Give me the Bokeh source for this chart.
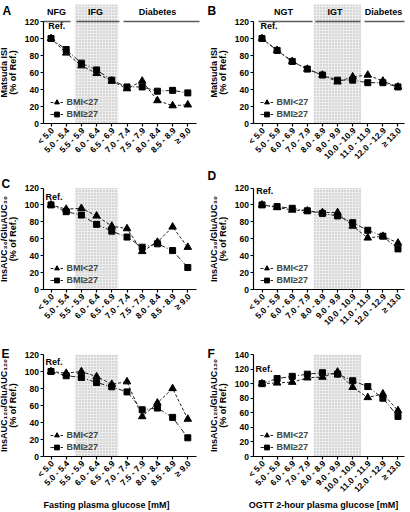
import math
from bokeh.plotting import figure
from bokeh.layouts import column, row
from bokeh.models import FixedTicker, Legend, LegendItem, Range1d
from bokeh.core.properties import value
from bokeh.embed import file_html
from bokeh.resources import INLINE

# ---------------- data ----------------
fpg_bins = ["< 5.0", "5.0 - 5.4", "5.5 - 5.9", "6.0 - 6.4", "6.5 - 6.9",
            "7.0 - 7.4", "7.5 - 7.9", "8.0 - 8.4", "8.5 - 8.9", "\u2265 9.0"]
ogtt_bins = ["< 5.0", "5.0 - 5.9", "6.0 - 6.9", "7.0 - 7.9", "8.0 - 8.9",
             "9.0 - 9.9", "10.0 - 10.9", "11.0 - 11.9", "12.0 - 12.9", "\u2265 13.0"]
series_names = ["BMI<27", "BMI\u226527"]
fpg_groups = ["NFG", "IFG", "Diabetes"]
ogtt_groups = ["NGT", "IGT", "Diabetes"]

matsuda_fpg_lt27 = [100, 83, 68, 59, 50, 41, 50, 27, 21, 22]
matsuda_fpg_ge27 = [100, 87, 71, 63, 51, 43, 43, 38, 39, 36]
matsuda_ogtt_lt27 = [100, 86, 73, 64, 57, 49, 55, 57, 50, 43]
matsuda_ogtt_ge27 = [100, 86, 73, 64, 57, 51, 51, 48, 48, 43]
ins30_fpg_lt27 = [100, 95, 96, 87, 75, 72, 45, 56, 74, 50]
ins30_fpg_ge27 = [100, 92, 88, 77, 69, 62, 50, 54, 46, 26]
ins30_ogtt_lt27 = [100, 97, 94, 93, 91, 91, 75, 61, 63, 55]
ins30_ogtt_ge27 = [100, 98, 96, 93, 90, 87, 79, 70, 63, 48]
ins120_fpg_lt27 = [100, 98, 100, 94, 85, 88, 47, 63, 80, 44]
ins120_fpg_ge27 = [100, 95, 93, 87, 82, 76, 55, 57, 46, 22]
ins120_ogtt_lt27 = [100, 101, 102, 108, 109, 116, 95, 81, 86, 63]
ins120_ogtt_ge27 = [100, 107, 110, 113, 115, 113, 104, 96, 80, 55]

# ---------------- layout (reference pixel geometry) ----------------
S = 1.0
FONT_NAME = "Liberation Sans"
FONT = value(FONT_NAME)
COLS = [dict(off=0, w=205, cat0=50.5, step=15.2, ax_l=42.5, ax_r=196),
        dict(off=205, w=204, cat0=261.5, step=15.11, ax_l=252.5, ax_r=404)]
ROWS = [dict(off=0, h=165, y0=123, ytop=21),
        dict(off=165, h=165, y0=289, ytop=187.5),
        dict(off=330, h=180, y0=456, ytop=354)]


def make_panel(letter, ci, ri, bins, lt, ge, ymax, ylab, letter_pos, ref_pos,
               shade, shade_top_ref=None, groups=None, group_spans=None,
               group_centers=None, xtitle=None, xtitle_pos=None):
    C, R = COLS[ci], ROWS[ri]
    w, h = C["w"], R["h"]
    ppc = C["step"] * S
    ppu = (R["y0"] - R["ytop"]) * S / ymax
    x_start = -(C["cat0"] * S - C["off"]) / ppc
    x_end = x_start + w / ppc
    fb = R["y0"] * S - R["off"]
    y_start = -(h - fb) / ppu
    y_end = y_start + h / ppu

    def dx(rx):
        return x_start + (rx * S - C["off"]) / ppc

    def dy(ry):
        return (fb - (ry * S - R["off"])) / ppu

    p = figure(width=w, height=h, x_range=Range1d(x_start, x_end),
               y_range=Range1d(y_start, y_end), output_backend="svg",
               toolbar_location=None, min_border=0, outline_line_color=None,
               background_fill_color="white", border_fill_color="white")
    p.xgrid.visible = False
    p.ygrid.visible = False

    xs = list(range(len(bins)))
    stop = ymax if shade_top_ref is None else dy(shade_top_ref)
    p.quad(left=[shade[0]], right=[shade[1]], bottom=[0], top=[stop],
           fill_color="#ededed", line_color=None, hatch_pattern="dot",
           hatch_color="#b4b4b4", hatch_scale=3, hatch_weight=1)

    l1 = p.line(xs, lt, line_color="#222222", line_width=1, line_dash="3 2")
    s1 = p.scatter(xs, lt, marker="triangle", size=7.5, fill_color="black",
                   line_color="black")
    l2 = p.line(xs, ge, line_color="#222222", line_width=1, line_dash="5 2 1 2")
    s2 = p.scatter(xs, ge, marker="square", size=6, fill_color="black",
                   line_color="black")

    # axes drawn at fixed positions inside the full-figure frame
    p.xaxis.fixed_location = 0
    p.yaxis.fixed_location = dx(C["ax_l"])
    p.xaxis.ticker = FixedTicker(ticks=xs)
    p.xaxis.major_label_overrides = {i: "" for i in xs}
    p.xaxis.bounds = (dx(C["ax_l"]), dx(C["ax_r"]))
    p.yaxis.ticker = FixedTicker(ticks=list(range(0, ymax + 1, 20)))
    p.yaxis.bounds = (0, ymax)
    for ax in (p.xaxis[0], p.yaxis[0]):
        ax.axis_line_width = 1.2
        ax.axis_line_color = "black"
        ax.major_tick_line_width = 1.2
        ax.major_tick_line_color = "black"
        ax.major_tick_out = 3
        ax.major_tick_in = 0
        ax.minor_tick_line_color = None
        ax.major_label_text_font = FONT_NAME
        ax.major_label_text_font_style = "bold"
        ax.major_label_text_font_size = "8.5px"
        ax.major_label_text_color = "black"
    p.yaxis.major_label_standoff = 1
    p.yaxis.axis_label = ylab
    p.yaxis.axis_label_text_font = FONT_NAME
    p.yaxis.axis_label_text_font_style = "bold"
    p.yaxis.axis_label_text_font_size = "9px"
    p.yaxis.axis_label_text_color = "black"
    p.yaxis.axis_label_text_line_height = 0.9
    p.yaxis.axis_label_standoff = 4

    def txt(texts, rxs, rys, size, align="left", baseline="alphabetic", angle=0.0,
            data_x=None):
        xs_ = data_x if data_x is not None else [dx(r) for r in rxs]
        p.text(x=xs_, y=[dy(r) for r in rys], text=texts, angle=angle,
               text_align=align, text_baseline=baseline, text_font=FONT,
               text_font_style="bold", text_font_size=size, text_color="black")

    # rotated category labels under the ticks
    txt(bins, None, [R["y0"] + 5.5] * len(xs), "8.5px", align="right",
        baseline="middle", angle=math.pi / 4, data_x=[x + 0.1 for x in xs])

    legend = Legend(items=[LegendItem(label=series_names[0], renderers=[l1, s1]),
                           LegendItem(label=series_names[1], renderers=[l2, s2])],
                    location=((C["ax_l"] * S - C["off"]) + 7, (h - fb) + 3),
                    orientation="vertical", glyph_width=13,
                    glyph_height=12, label_height=12, label_standoff=4, spacing=0,
                    padding=0, margin=0, border_line_alpha=0,
                    background_fill_alpha=0, label_text_font=FONT_NAME,
                    label_text_font_style="bold", label_text_font_size="9px")
    p.add_layout(legend)

    txt([letter], [letter_pos[0]], [letter_pos[1]], "12px")
    txt(["Ref."], [ref_pos[0]], [ref_pos[1]], "9px", baseline="middle")

    if groups is not None:
        p.segment(x0=[dx(a) for a, b in group_spans], x1=[dx(b) for a, b in group_spans],
                  y0=[ymax] * len(groups), y1=[ymax] * len(groups),
                  line_color="#5a5a5a", line_width=1.5)
        txt(groups, group_centers, [11] * len(groups), "9px", align="center",
            baseline="middle")
    if xtitle is not None:
        txt([xtitle], [xtitle_pos[0]], [xtitle_pos[1]], "9px", align="center",
            baseline="middle")
    return p


ISI = "Matsuda ISI\n(% of Ref.)"
I30 = "InsAUC\u2083\u2080/GluAUC\u2083\u2080\n(% of Ref.)"
I120 = "InsAUC\u2081\u2082\u2080/GluAUC\u2081\u2082\u2080\n(% of Ref.)"
FPG_SHADE = (1.57, 4.42)
OGTT_SHADE = (3.43, 6.56)

pA = make_panel("A", 0, 0, fpg_bins, matsuda_fpg_lt27, matsuda_fpg_ge27, 120, ISI,
                (2, 10), (47.7, 25), FPG_SHADE, shade_top_ref=4,
                groups=fpg_groups, group_spans=[(43, 70), (76, 119), (123, 199)],
                group_centers=[56, 95, 157])
pB = make_panel("B", 1, 0, ogtt_bins, matsuda_ogtt_lt27, matsuda_ogtt_ge27, 120, ISI,
                (207, 10), (260, 25), OGTT_SHADE, shade_top_ref=4,
                groups=ogtt_groups, group_spans=[(258, 312), (315, 360), (364, 404)],
                group_centers=[283, 334.5, 383])
pC = make_panel("C", 0, 1, fpg_bins, ins30_fpg_lt27, ins30_fpg_ge27, 120, I30,
                (1, 183), (45, 196.7), FPG_SHADE)
pD = make_panel("D", 1, 1, ogtt_bins, ins30_ogtt_lt27, ins30_ogtt_ge27, 120, I30,
                (207, 175), (255.7, 190), OGTT_SHADE)
pE = make_panel("E", 0, 2, fpg_bins, ins120_fpg_lt27, ins120_fpg_ge27, 120, I120,
                (1, 353), (45, 361.7), FPG_SHADE,
                xtitle="Fasting plasma glucose [mM]", xtitle_pos=(106, 504))
pF = make_panel("F", 1, 2, ogtt_bins, ins120_ogtt_lt27, ins120_ogtt_ge27, 140, I120,
                (207, 353), (255, 368), OGTT_SHADE,
                xtitle="OGTT 2-hour plasma glucose [mM]", xtitle_pos=(323, 504))

layout = column(row(pA, pB), row(pC, pD), row(pE, pF))
open("out.html", "w").write(file_html(layout, INLINE))
